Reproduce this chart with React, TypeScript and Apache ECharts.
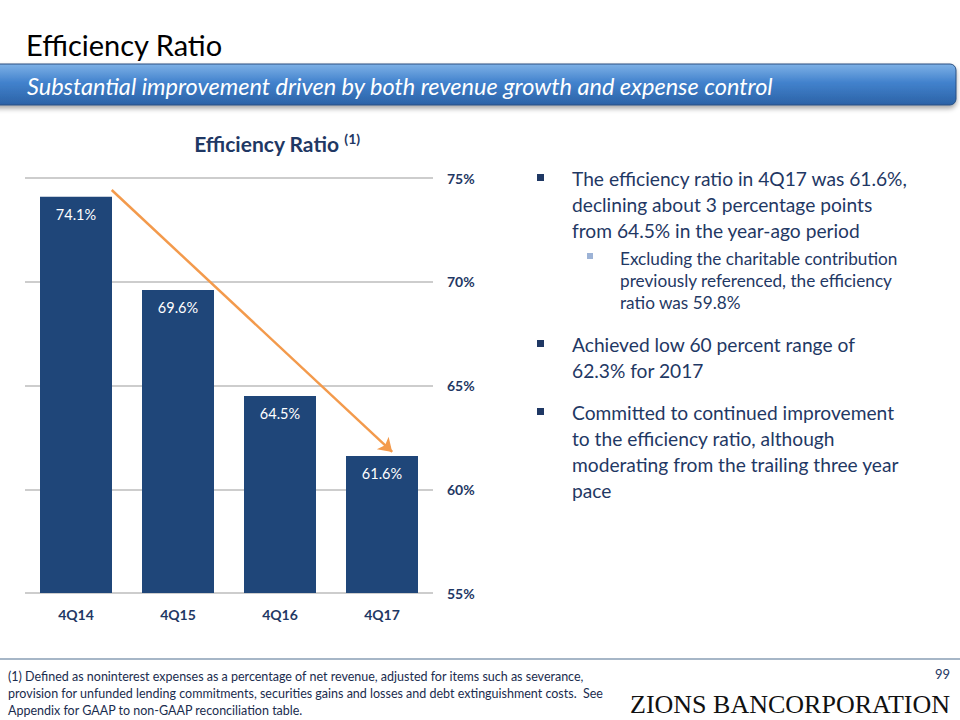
import React, { useEffect, useRef } from "react";
import * as echarts from "echarts";

const categories = ["4Q14", "4Q15", "4Q16", "4Q17"];
const ratioValues = [74.1, 69.6, 64.5, 61.6];
const yTicks = { min: 55, max: 75, interval: 5 };
// trend arrow endpoints in data space: [category position, percent]
const trendArrow = [
  [0.35, 74.42],
  [3.1, 61.8],
];

const mainBullets = [
  { lines: ["The efficiency ratio in 4Q17 was 61.6%,", "declining about 3 percentage points", "from 64.5% in the year-ago period"], y: 178 },
  { lines: ["Achieved low 60 percent range of", "62.3% for 2017"], y: 344 },
  { lines: ["Committed to continued improvement", "to the efficiency ratio, although", "moderating from the trailing three year", "pace"], y: 412 },
];
const subBullet = {
  lines: ["Excluding the charitable contribution", "previously referenced, the efficiency", "ratio was 59.8%"],
  y: 258,
};
const footnoteLines = [
  "(1) Defined as noninterest expenses as a percentage of net revenue, adjusted for items such as severance,",
  "provision for unfunded lending commitments, securities gains and losses and debt extinguishment costs.  See",
  "Appendix for GAAP to non-GAAP reconciliation table.",
];

const NAVY = "#1F3864";
const FONT = "Lato, 'Open Sans', sans-serif";

export default function App() {
  const ref = useRef<HTMLDivElement>(null);
  useEffect(() => {
    if (!ref.current) return;
    const chart = echarts.init(ref.current, undefined, { renderer: "svg" });

    const graphics: any[] = [];
    graphics.push({
      type: "text",
      x: 26,
      y: 44,
      style: { text: "Efficiency Ratio", font: `29px ${FONT}`, fill: "#000", textVerticalAlign: "middle" },
    });
    graphics.push({
      type: "rect",
      shape: { x: -10, y: 64, width: 966, height: 41, r: [0, 6, 6, 0] },
      style: {
        fill: new echarts.graphic.LinearGradient(0, 0, 0, 1, [
          { offset: 0, color: "#7EB1E6" },
          { offset: 0.45, color: "#4282CD" },
          { offset: 1, color: "#2B62A6" },
        ]),
        stroke: "#2A4F80",
        lineWidth: 1,
        shadowBlur: 5,
        shadowOffsetY: 3,
        shadowColor: "rgba(0,0,0,0.35)",
      },
    });
    graphics.push({
      type: "text",
      x: 27,
      y: 86,
      style: {
        text: "Substantial improvement driven by both revenue growth and expense control",
        font: `italic 23.5px ${FONT}`,
        fill: "#fff",
        textVerticalAlign: "middle",
      },
    });
    graphics.push({
      type: "text",
      x: 277,
      y: 143,
      style: {
        text: "{a|Efficiency Ratio }{b|(1)}",
        align: "center",
        verticalAlign: "middle",
        rich: {
          a: { font: `bold 21px ${FONT}`, fill: NAVY },
          b: { font: `bold 14px ${FONT}`, fill: NAVY, padding: [0, 0, 10, 0] },
        },
      },
    });
    const lh = 26;
    mainBullets.forEach((b) => {
      graphics.push({
        type: "rect",
        shape: { x: 537, y: b.y - 4, width: 7, height: 7 },
        style: { fill: NAVY },
      });
      b.lines.forEach((ln, i) => {
        graphics.push({
          type: "text",
          x: 572,
          y: b.y + i * lh,
          style: { text: ln, font: `19.2px ${FONT}`, fill: NAVY, textVerticalAlign: "middle" },
        });
      });
    });
    graphics.push({
      type: "rect",
      shape: { x: 587, y: subBullet.y - 5, width: 6, height: 6 },
      style: { fill: "#9DB3D6" },
    });
    subBullet.lines.forEach((ln, i) => {
      graphics.push({
        type: "text",
        x: 620,
        y: subBullet.y + i * 22,
        style: { text: ln, font: `17.2px ${FONT}`, fill: NAVY, textVerticalAlign: "middle" },
      });
    });
    graphics.push({
      type: "line",
      shape: { x1: 0, y1: 659, x2: 960, y2: 659 },
      style: { stroke: "#4F6E8F", lineWidth: 1.2 },
    });
    footnoteLines.forEach((ln, i) => {
      graphics.push({
        type: "text",
        x: 8,
        y: 676 + i * 17,
        style: { text: ln, font: `12.5px ${FONT}`, fill: "#1A2C4E", textVerticalAlign: "middle" },
      });
    });
    graphics.push({
      type: "text",
      x: 950,
      y: 674,
      style: { text: "99", font: `13px ${FONT}`, fill: NAVY, align: "right", textVerticalAlign: "middle" },
    });
    graphics.push({
      type: "text",
      x: 950,
      y: 704,
      style: {
        text: "ZIONS BANCORPORATION",
        font: `26px 'Liberation Serif', 'DejaVu Serif', serif`,
        fill: "#111",
        align: "right",
        textVerticalAlign: "middle",
      },
    });

    chart.setOption({
      animation: false,
      textStyle: { fontFamily: FONT },
      grid: { left: 25, right: 527, top: 178, bottom: 127, containLabel: false },
      xAxis: [
        {
          type: "category",
          data: categories,
          axisLine: { show: false },
          axisTick: { show: false },
          axisLabel: { color: NAVY, fontWeight: "bold", fontSize: 14, margin: 14, fontFamily: FONT },
        },
        { type: "value", min: -0.5, max: 3.5, show: false },
      ],
      yAxis: {
        type: "value",
        position: "right",
        min: yTicks.min,
        max: yTicks.max,
        interval: yTicks.interval,
        axisLine: { show: false },
        axisTick: { show: false },
        splitLine: { lineStyle: { color: "#BDBDBD", width: 1.5 } },
        axisLabel: {
          formatter: "{value}%",
          color: NAVY,
          fontWeight: "bold",
          fontSize: 14,
          margin: 14,
          fontFamily: FONT,
        },
      },
      series: [
        {
          type: "bar",
          data: ratioValues,
          barWidth: 72,
          itemStyle: { color: "#1F4679" },
          label: {
            show: true,
            position: "insideTop",
            distance: 10,
            color: "#fff",
            fontSize: 14.5,
            fontFamily: FONT,
            formatter: (p: any) => `${p.value.toFixed(1)}%`,
          },
        },
        {
          type: "line",
          xAxisIndex: 1,
          data: [],
          markLine: {
            silent: true,
            symbol: ["none", "arrow"],
            symbolSize: 13,
            label: { show: false },
            lineStyle: { color: "#F39A4C", width: 2.5, type: "solid" },
            data: [[{ coord: trendArrow[0] }, { coord: trendArrow[1] }]],
          },
        },
      ],
      graphic: graphics,
    });
    return () => chart.dispose();
  }, []);
  return (
    <div
      ref={ref}
      style={{ position: "absolute", left: 0, top: 0, width: 960, height: 720, background: "#fff" }}
    />
  );
}
